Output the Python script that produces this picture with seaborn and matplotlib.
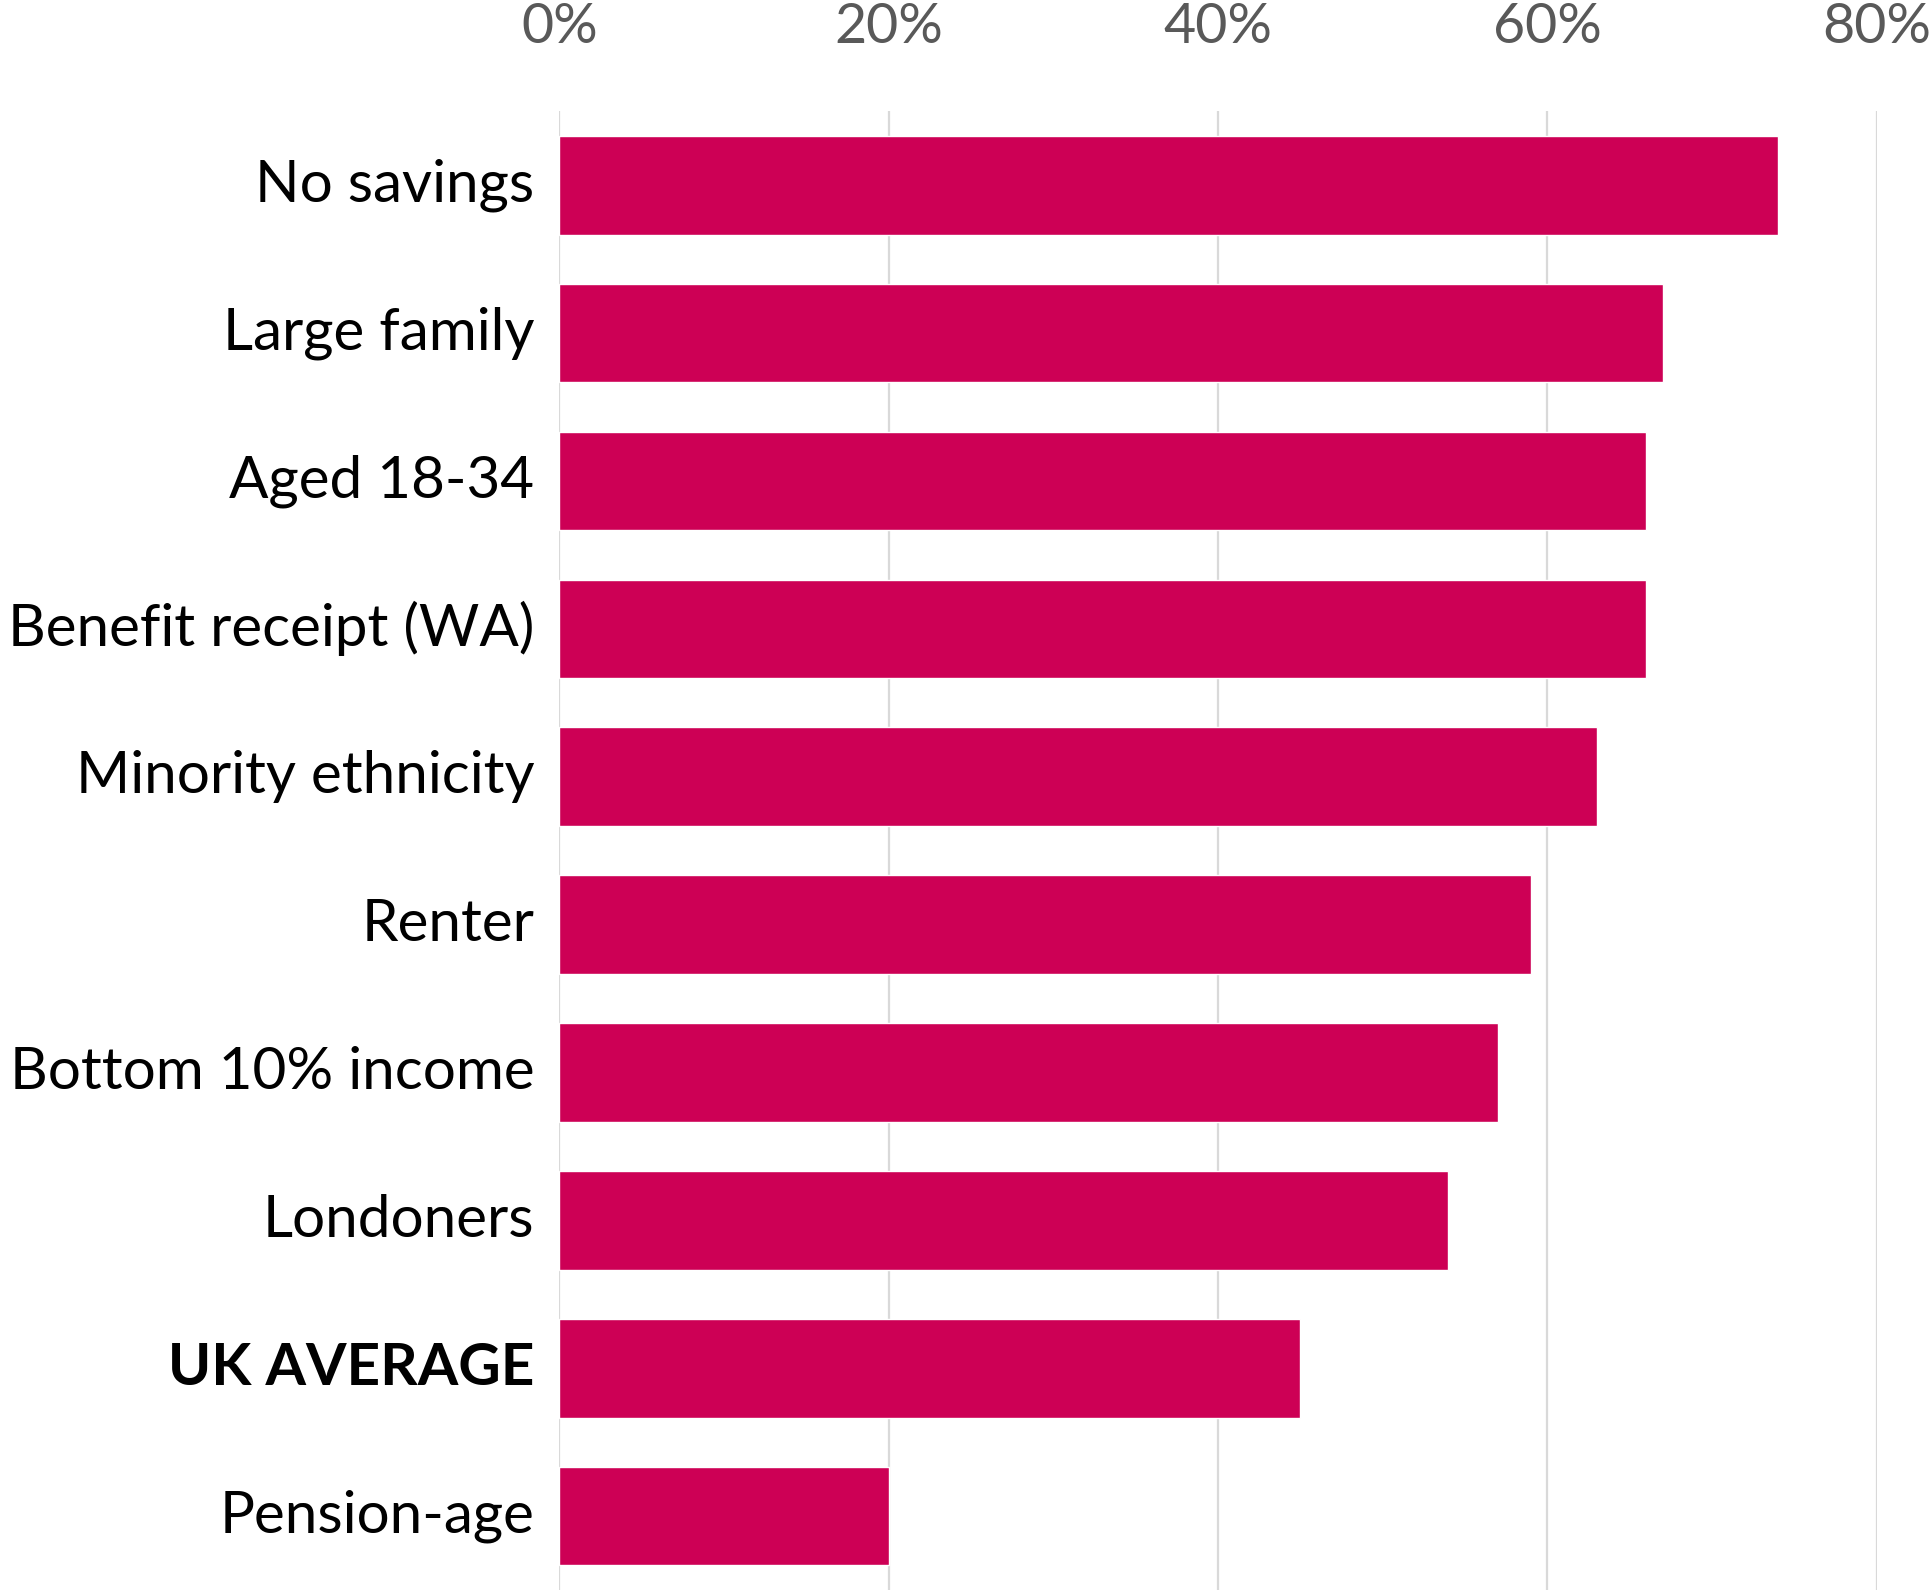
import matplotlib
matplotlib.use("Agg")
import matplotlib.pyplot as plt
import matplotlib.transforms as mtransforms
import seaborn as sns
import pandas as pd

categories = [
    "No savings",
    "Large family",
    "Aged 18-34",
    "Benefit receipt (WA)",
    "Minority ethnicity",
    "Renter",
    "Bottom 10% income",
    "Londoners",
    "UK AVERAGE",
    "Pension-age",
]
shares = [74, 67, 66, 66, 63, 59, 57, 54, 45, 20]
x_ticks = [0, 20, 40, 60, 80]
x_tick_labels = ["0%", "20%", "40%", "60%", "80%"]

df = pd.DataFrame({"group": categories, "share": shares})

sns.set_theme(style="white")
plt.rcParams["font.family"] = ["Lato", "DejaVu Sans"]

fig = plt.figure(figsize=(19.32, 15.9), dpi=100)
ax = fig.add_axes([0.2895, 0.0, 0.9713 - 0.2895, 0.930])

sns.barplot(data=df, x="share", y="group", orient="h", color="#CD0055",
            width=0.667, saturation=1, ax=ax, zorder=2)

ax.set_xlim(0, 80)
ax.set_ylim(len(categories) - 0.5, -0.5)
ax.set_xticks(x_ticks)
ax.set_xticklabels(x_tick_labels)
ax.xaxis.tick_top()
ax.grid(axis="x", color="#D9D9D9", linewidth=1.6, zorder=0)
ax.set_axisbelow(True)
for s in ax.spines.values():
    s.set_visible(False)
ax.set_xlabel("")
ax.set_ylabel("")

ax.tick_params(axis="x", length=0, pad=42, labelsize=40, labelcolor="#595959")
ax.tick_params(axis="y", length=0, pad=18, labelsize=42, labelcolor="black")

# nudge category labels up slightly so they sit centred on their bars
shift = mtransforms.ScaledTranslation(0, 0.05, fig.dpi_scale_trans)
for lbl in ax.get_yticklabels():
    lbl.set_transform(lbl.get_transform() + shift)
    if lbl.get_text() == "UK AVERAGE":
        lbl.set_fontweight("bold")

fig.savefig("out.png", dpi=100)
